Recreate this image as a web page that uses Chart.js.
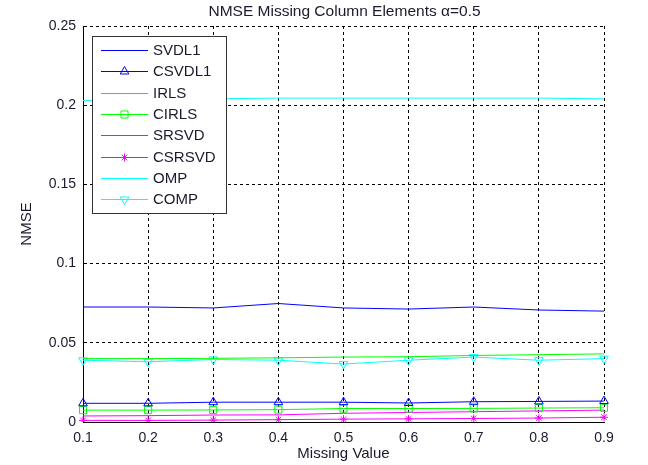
<!DOCTYPE html>
<html>
<head>
<meta charset="utf-8">
<script src="https://cdn.jsdelivr.net/npm/chart.js@4"></script>
<style>
  html, body { margin: 0; padding: 0; background: #fff; }
  #wrap { width: 648px; height: 465px; }
</style>
</head>
<body>
<div id="wrap"><canvas id="c" width="648" height="465"></canvas></div>
<script>
// valores
const missingValues = ["0.1", "0.2", "0.3", "0.4", "0.5", "0.6", "0.7", "0.8", "0.9"];
const svdl1  = [0.0726, 0.0726, 0.0720, 0.0748, 0.0720, 0.0713, 0.0726, 0.0707, 0.0700];
const csvdl1 = [0.0118, 0.0118, 0.0125, 0.0125, 0.0125, 0.0120, 0.0128, 0.0130, 0.0132];
const irls   = [0.0400, 0.0400, 0.0402, 0.0405, 0.0410, 0.0412, 0.0420, 0.0425, 0.0430];
const cirls  = [0.0075, 0.0075, 0.0076, 0.0078, 0.0085, 0.0085, 0.0086, 0.0088, 0.0090];
const srsvd  = [0.0038, 0.0040, 0.0044, 0.0045, 0.0055, 0.0060, 0.0065, 0.0070, 0.0075];
const csrsvd = [0.0010, 0.0010, 0.0012, 0.0015, 0.0018, 0.0020, 0.0022, 0.0025, 0.0030];
const omp    = [0.2030, 0.2035, 0.2040, 0.2045, 0.2045, 0.2045, 0.2045, 0.2045, 0.2040];
const comp   = [0.0390, 0.0380, 0.0395, 0.0390, 0.0366, 0.0390, 0.0410, 0.0390, 0.0400];
const titulo = "NMSE Missing Column Elements α=0.5";

const BLUE = "#0000ff", GREEN = "#00ff00", MAGENTA = "#ff00ff", CYAN = "#00ffff";
const FONT = "'Liberation Sans', Arial, sans-serif";

// entradas da legenda (preenchidas por serie())
const entradas = [];

function serie(label, data, color, marker, rotation) {
    entradas.push({ label, color, marker: marker || null, rotation: rotation || 0 });
    return {
        label: label,
        data: data,
        borderColor: color,
        backgroundColor: "transparent",
        borderWidth: 1,
        pointStyle: marker || false,
        pointRadius: marker ? (marker === "star" ? 4 : 5) : 0,
        pointRotation: rotation || 0,
        pointBorderColor: color,
        pointBackgroundColor: "transparent",
        pointBorderWidth: 1,
        tension: 0,
    };
}

// título centrado sobre a área do gráfico (como no MATLAB) e legenda interna
const decoracao = {
    id: "decoracao",
    afterDraw(chart) {
        const ctx = chart.ctx;
        const area = chart.chartArea;
        ctx.save();
        ctx.setLineDash([]);
        ctx.fillStyle = "#1a1a2e";
        ctx.font = "15.5px " + FONT;
        ctx.textAlign = "center";
        ctx.textBaseline = "middle";
        ctx.fillText(titulo, (area.left + area.right) / 2 + 1, 12);

        const x0 = 92, y0 = 36, w = 134, h = 177;
        ctx.fillStyle = "#fff";
        ctx.fillRect(x0, y0, w, h);
        ctx.strokeStyle = "#333";
        ctx.lineWidth = 1;
        ctx.strokeRect(x0 + 0.5, y0 + 0.5, w, h);
        ctx.font = "15px " + FONT;
        ctx.textAlign = "left";
        entradas.forEach((e, i) => {
            const y = Math.round(50 + i * 21.3);
            ctx.fillStyle = e.color;
            ctx.fillRect(101, y, 47, 1);
            if (e.marker) {
                ctx.setLineDash([]);
                ctx.lineWidth = 1;
                ctx.fillStyle = "rgba(0,0,0,0)";
                ctx.strokeStyle = e.color;
                Chart.helpers.drawPoint(ctx, {
                    pointStyle: e.marker,
                    radius: e.marker === "star" ? 4 : 5,
                    rotation: e.rotation,
                    borderWidth: 1,
                }, 124.5, y + 0.5);
            }
            ctx.fillStyle = "#1a1a2e";
            ctx.fillText(e.label, 153, y + 1);
        });
        ctx.restore();
    },
};

new Chart(document.getElementById("c"), {
    type: "line",
    plugins: [decoracao],
    data: {
        labels: missingValues,
        datasets: [
            serie("SVDL1", svdl1, BLUE),
            serie("CSVDL1", csvdl1, BLUE, "triangle"),
            serie("IRLS", irls, GREEN),
            serie("CIRLS", cirls, GREEN, "rect"),
            serie("SRSVD", srsvd, MAGENTA),
            serie("CSRSVD", csrsvd, MAGENTA, "star"),
            serie("OMP", omp, CYAN),
            serie("COMP", comp, CYAN, "triangle", 180),
        ],
    },
    options: {
        responsive: false,
        animation: false,
        layout: { padding: { left: 15, right: 44, top: 26, bottom: 2 } },
        plugins: {
            legend: { display: false },
            tooltip: { enabled: false },
            title: { display: false },
        },
        scales: {
            x: {
                type: "category",
                offset: false,
                grid: { color: "#000", drawTicks: false, lineWidth: 1 },
                border: { color: "#000", dash: [3, 3], width: 1 },
                ticks: {
                    color: "#1a1a2e",
                    padding: 8,
                    maxRotation: 0,
                    font: { size: 14, family: FONT },
                },
                title: {
                    display: true,
                    text: "Missing Value",
                    color: "#1a1a2e",
                    padding: 0,
                    font: { size: 15, family: FONT },
                },
                afterFit(scale) { scale.height = 41; },
            },
            y: {
                min: 0,
                max: 0.25,
                grid: { color: "#000", drawTicks: false, lineWidth: 1 },
                border: { color: "#000", dash: [3, 3], width: 1 },
                ticks: {
                    stepSize: 0.05,
                    color: "#1a1a2e",
                    padding: 7,
                    font: { size: 14, family: FONT },
                    callback: (v) => String(+Number(v).toFixed(2)),
                },
                title: {
                    display: true,
                    text: "NMSE",
                    color: "#1a1a2e",
                    padding: { top: 3, bottom: 0 },
                    font: { size: 15, family: FONT },
                },
                afterFit(scale) { scale.width = 68; },
            },
        },
    },
});
</script>
</body>
</html>
